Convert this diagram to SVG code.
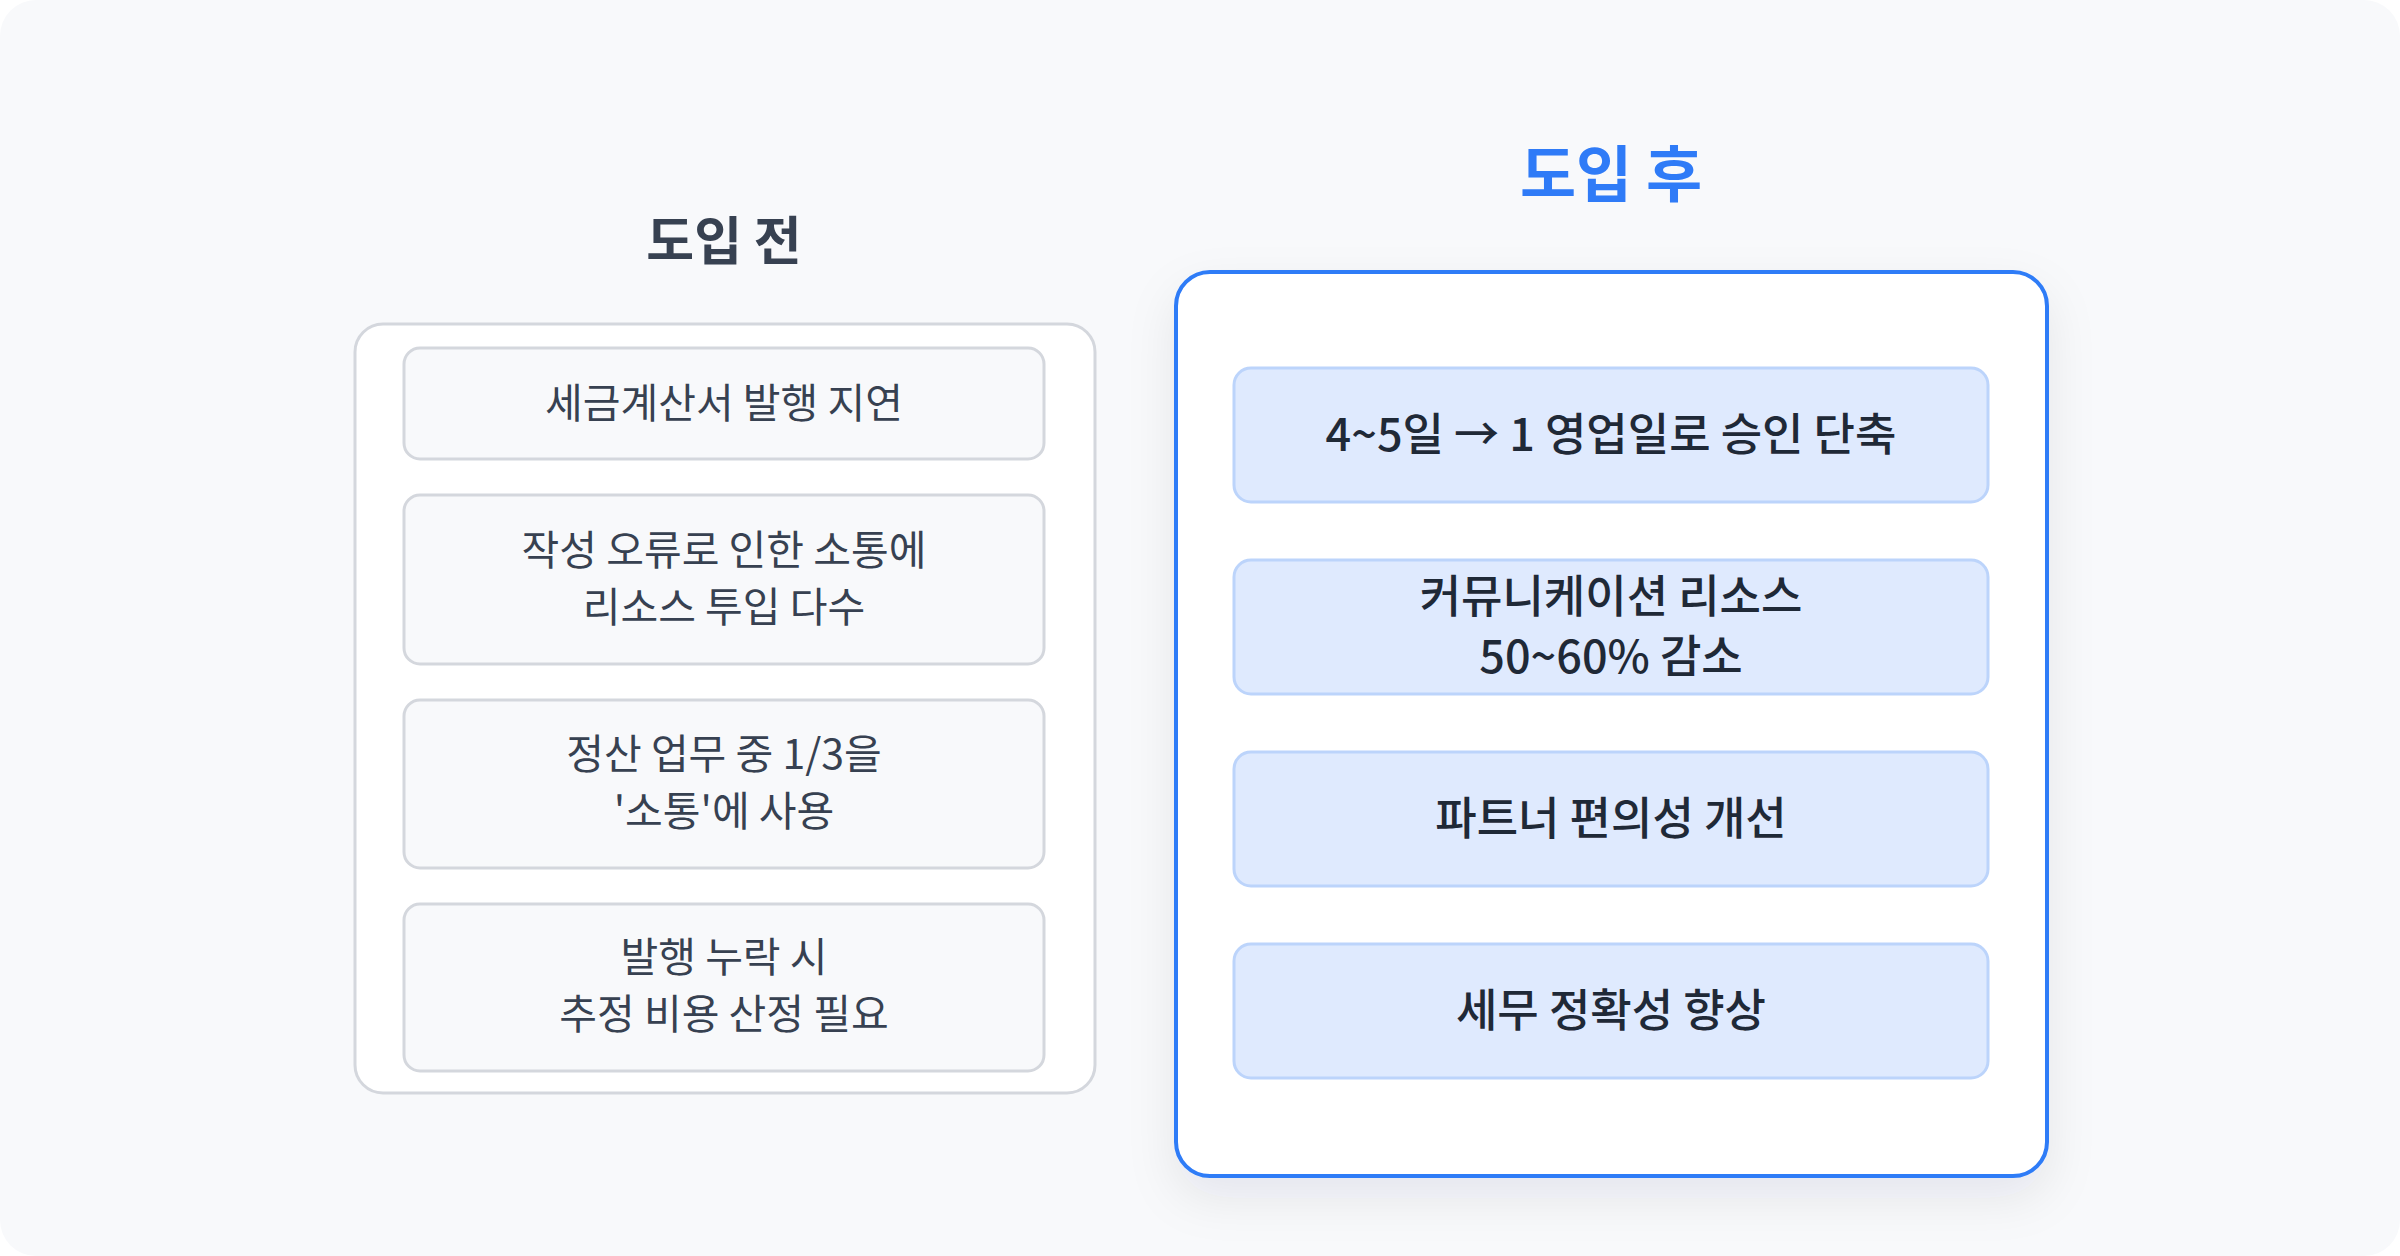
<svg xmlns="http://www.w3.org/2000/svg" width="2400" height="1256" viewBox="0 0 2400 1256">
  <defs>
    <filter id="shadow" x="-20%" y="-20%" width="140%" height="140%">
      <feDropShadow dx="0" dy="20" stdDeviation="24" flood-color="#1f2937" flood-opacity="0.08"/>
    </filter>
    <style>
      .bg { fill: #f8f9fb; }
      .panel-before { fill: #ffffff; stroke: #d4d7dd; stroke-width: 3; }
      .panel-after { fill: #ffffff; stroke: #2f7bf7; stroke-width: 4; }
      .item-before { fill: #f8f9fb; stroke: #d4d7dd; stroke-width: 3; }
      .item-after { fill: #dfeafe; stroke: #bcd4fb; stroke-width: 3; }
      .title-before { font-family: "Noto Sans CJK KR", "Noto Sans", sans-serif; font-size: 52px; font-weight: 600; fill: #374151; text-anchor: middle; }
      .title-after { font-family: "Noto Sans CJK KR", "Noto Sans", sans-serif; font-size: 61px; font-weight: 700; fill: #2f7bf7; text-anchor: middle; }
      .txt-before { font-family: "Noto Sans CJK KR", "Noto Sans", sans-serif; font-size: 41px; font-weight: 400; fill: #374151; text-anchor: middle; }
      .txt-after { font-family: "Noto Sans CJK KR", "Noto Sans", sans-serif; font-size: 45px; font-weight: 500; fill: #1f2937; text-anchor: middle; }
    </style>
  </defs>

  <rect width="2400" height="1256" fill="#ffffff"/>
  <rect class="bg" x="0" y="0" width="2400" height="1256" rx="36"/>

  <g id="before-panel">
    <text class="title-before" x="724" y="260">도입 전</text>
    <rect class="panel-before" x="355" y="324" width="740" height="769" rx="28"/>
  </g>

  <g id="before-1">
    <rect class="item-before" x="404" y="348" width="640" height="111" rx="16"/>
    <text class="txt-before" x="724" y="418">세금계산서 발행 지연</text>
  </g>
  <g id="before-2">
    <rect class="item-before" x="404" y="495" width="640" height="169" rx="16"/>
    <text class="txt-before" x="724" y="565">작성 오류로 인한 소통에</text>
    <text class="txt-before" x="724" y="622">리소스 투입 다수</text>
  </g>
  <g id="before-3">
    <rect class="item-before" x="404" y="700" width="640" height="168" rx="16"/>
    <text class="txt-before" x="724" y="769">정산 업무 중 1/3을</text>
    <text class="txt-before" x="724" y="826">'소통'에 사용</text>
  </g>
  <g id="before-4">
    <rect class="item-before" x="404" y="904" width="640" height="167" rx="16"/>
    <text class="txt-before" x="724" y="972">발행 누락 시</text>
    <text class="txt-before" x="724" y="1029">추정 비용 산정 필요</text>
  </g>

  <g id="after-panel">
    <text class="title-after" x="1611" y="197">도입 후</text>
    <rect class="panel-after" x="1176" y="272" width="871" height="904" rx="34" filter="url(#shadow)"/>
  </g>

  <g id="after-1">
    <rect class="item-after" x="1234" y="368" width="754" height="134" rx="17"/>
    <text class="txt-after" x="1611" y="451">4~5일 → 1 영업일로 승인 단축</text>
  </g>
  <g id="after-2">
    <rect class="item-after" x="1234" y="560" width="754" height="134" rx="17"/>
    <text class="txt-after" x="1611" y="613">커뮤니케이션 리소스</text>
    <text class="txt-after" x="1611" y="673">50~60% 감소</text>
  </g>
  <g id="after-3">
    <rect class="item-after" x="1234" y="752" width="754" height="134" rx="17"/>
    <text class="txt-after" x="1611" y="835">파트너 편의성 개선</text>
  </g>
  <g id="after-4">
    <rect class="item-after" x="1234" y="944" width="754" height="134" rx="17"/>
    <text class="txt-after" x="1611" y="1027">세무 정확성 향상</text>
  </g>

  <g id="connectors"></g>
</svg>
